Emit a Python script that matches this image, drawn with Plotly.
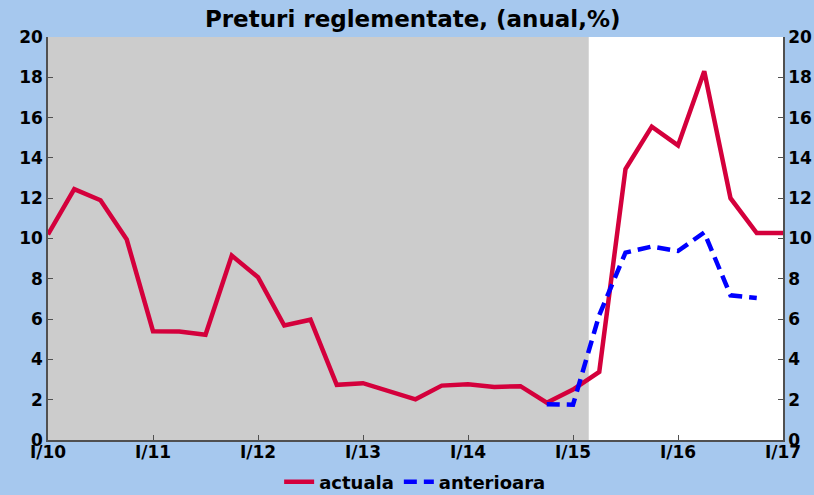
import plotly.graph_objects as go

# Quarterly series, I/2010 .. I/2017
quarters = [2010 + 0.25 * i for i in range(29)]
actuala = [10.2, 12.45, 11.9, 9.95, 5.4, 5.38, 5.22, 9.15, 8.08, 5.68, 5.97,
           2.74, 2.82, 2.4, 2.02, 2.7, 2.77, 2.63, 2.67, 1.85,
           2.5, 3.38, 13.45, 15.55, 14.62, 18.3, 12.0, 10.27, 10.27]
# previous projection, Q4 2014 .. Q4 2016
anterioara_x = [2014.75 + 0.25 * i for i in range(9)]
anterioara = [1.78, 1.75, 6.2, 9.3, 9.6, 9.38, 10.3, 7.18, 7.05]

year_ticks = [2010, 2011, 2012, 2013, 2014, 2015, 2016, 2017]
year_labels = ["I/10", "I/11", "I/12", "I/13", "I/14", "I/15", "I/16", "I/17"]
y_ticks = [0, 2, 4, 6, 8, 10, 12, 14, 16, 18, 20]
history_end = 2015.15

FONT = "DejaVu Sans"
RED = "#D4003C"
BLUE = "#0000FF"
BG = "#A6C8EE"
AXIS = "#505050"

fig = go.Figure()
fig.add_trace(go.Scatter(x=quarters, y=actuala, mode="lines", name="actuala",
                         line=dict(color=RED, width=4.5)))
fig.add_trace(go.Scatter(x=anterioara_x, y=anterioara, mode="lines", name="anterioara",
                         line=dict(color=BLUE, width=4.5, dash="13px,7px")))
# invisible trace to carry the right-hand axis
fig.add_trace(go.Scatter(x=[quarters[0]], y=[0], yaxis="y2", mode="lines",
                         showlegend=False, hoverinfo="skip",
                         line=dict(color="rgba(0,0,0,0)")))

fig.add_shape(type="rect", xref="x", yref="paper", x0=2010, x1=history_end,
              y0=0, y1=1, fillcolor="#CCCCCC", line_width=0, layer="below")

tickfont = dict(family=FONT, size=17, color="black", weight="bold")
axis_common = dict(range=[0, 20], tickvals=y_ticks, ticks="inside", ticklen=5,
                   tickcolor=AXIS, showgrid=False, zeroline=False,
                   showline=True, linecolor=AXIS, linewidth=1.5,
                   tickfont=tickfont)

fig.update_layout(
    width=814, height=495,
    paper_bgcolor=BG, plot_bgcolor="white",
    margin=dict(l=48, r=31, t=37, b=55, autoexpand=False),
    title=dict(text="<b>Preturi reglementate, (anual,%)</b>", x=0.507, xanchor="center",
               y=0.962, yanchor="middle",
               font=dict(family=FONT, size=23, color="black")),
    xaxis=dict(range=[2010, 2017], tickvals=year_ticks, ticktext=year_labels,
               ticks="inside", ticklen=5, tickcolor=AXIS, showgrid=False,
               zeroline=False, showline=True, linecolor=AXIS, linewidth=1.5,
               tickfont=tickfont, ticklabelstandoff=-4),
    yaxis=dict(side="left", **axis_common),
    yaxis2=dict(side="right", overlaying="y", **axis_common),
    legend=dict(orientation="h", xref="container", yref="container",
                x=0.51, xanchor="center", y=0.026, yanchor="middle",
                font=dict(family=FONT, size=18, color="black", weight="bold"),
                bgcolor="rgba(0,0,0,0)", itemwidth=30, tracegroupgap=0),
    showlegend=True,
)

fig.write_html("out.html")
